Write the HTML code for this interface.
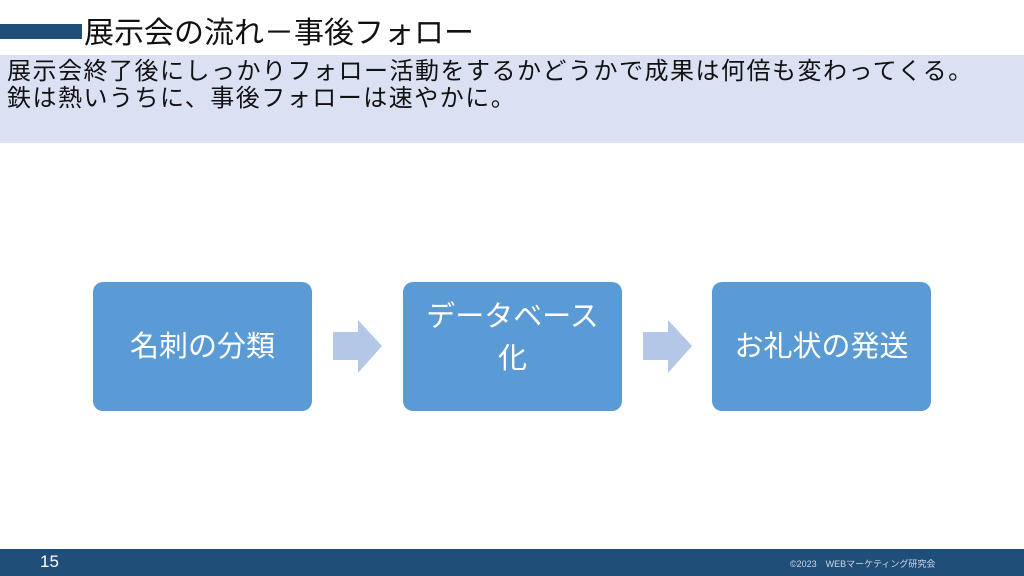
<!DOCTYPE html><html><head><meta charset="utf-8"><style>
body{margin:0;width:1024px;height:576px;position:relative;background:#fff;font-family:"Liberation Sans","Noto Sans CJK JP",sans-serif;overflow:hidden}
.a{position:absolute}
.box{position:absolute;top:282px;width:219px;height:129px;background:#5b9bd5;border-radius:10px;color:#fff;font-size:29px;display:flex;align-items:center;justify-content:center;text-align:center;line-height:42px}
</style></head><body>
<div class="a" style="left:0;top:24px;width:82px;height:15px;background:#1f4e79"></div>
<div class="a" style="left:84px;top:8px;font-size:30px;color:#111;white-space:nowrap">展示会の流れ－事後フォロー</div>
<div class="a" style="left:0;top:55px;width:1024px;height:88px;background:#dae1f3"></div>
<div class="a" style="left:7px;top:58px;font-size:24px;letter-spacing:1.5px;line-height:27px;color:#111;white-space:nowrap">展示会終了後にしっかりフォロー活動をするかどうかで成果は何倍も変わってくる。<br>鉄は熱いうちに、事後フォローは速やかに。</div>
<div class="box" style="left:93px">名刺の分類</div>
<div class="box" style="left:403px;align-items:flex-start;padding-top:14px;height:115px">データベース<br>化</div>
<div class="box" style="left:712px">お礼状の発送</div>
<svg class="a" style="left:0;top:0" width="1024" height="576">
<polygon points="333,332 358,332 358,320 382,346 358,373 358,360 333,360" fill="#b4c7e7"/>
<polygon points="643,332 668,332 668,320 692,346 668,373 668,360 643,360" fill="#b4c7e7"/>
</svg>
<div class="a" style="left:0;top:549px;width:1024px;height:27px;background:#1f4e79"></div>
<div class="a" style="left:40px;top:552px;font-size:17px;color:#fff">15</div>
<div class="a" style="left:790px;top:557px;font-size:9px;color:#cfd8e6;white-space:nowrap">©2023　WEBマーケティング研究会</div>
</body></html>
